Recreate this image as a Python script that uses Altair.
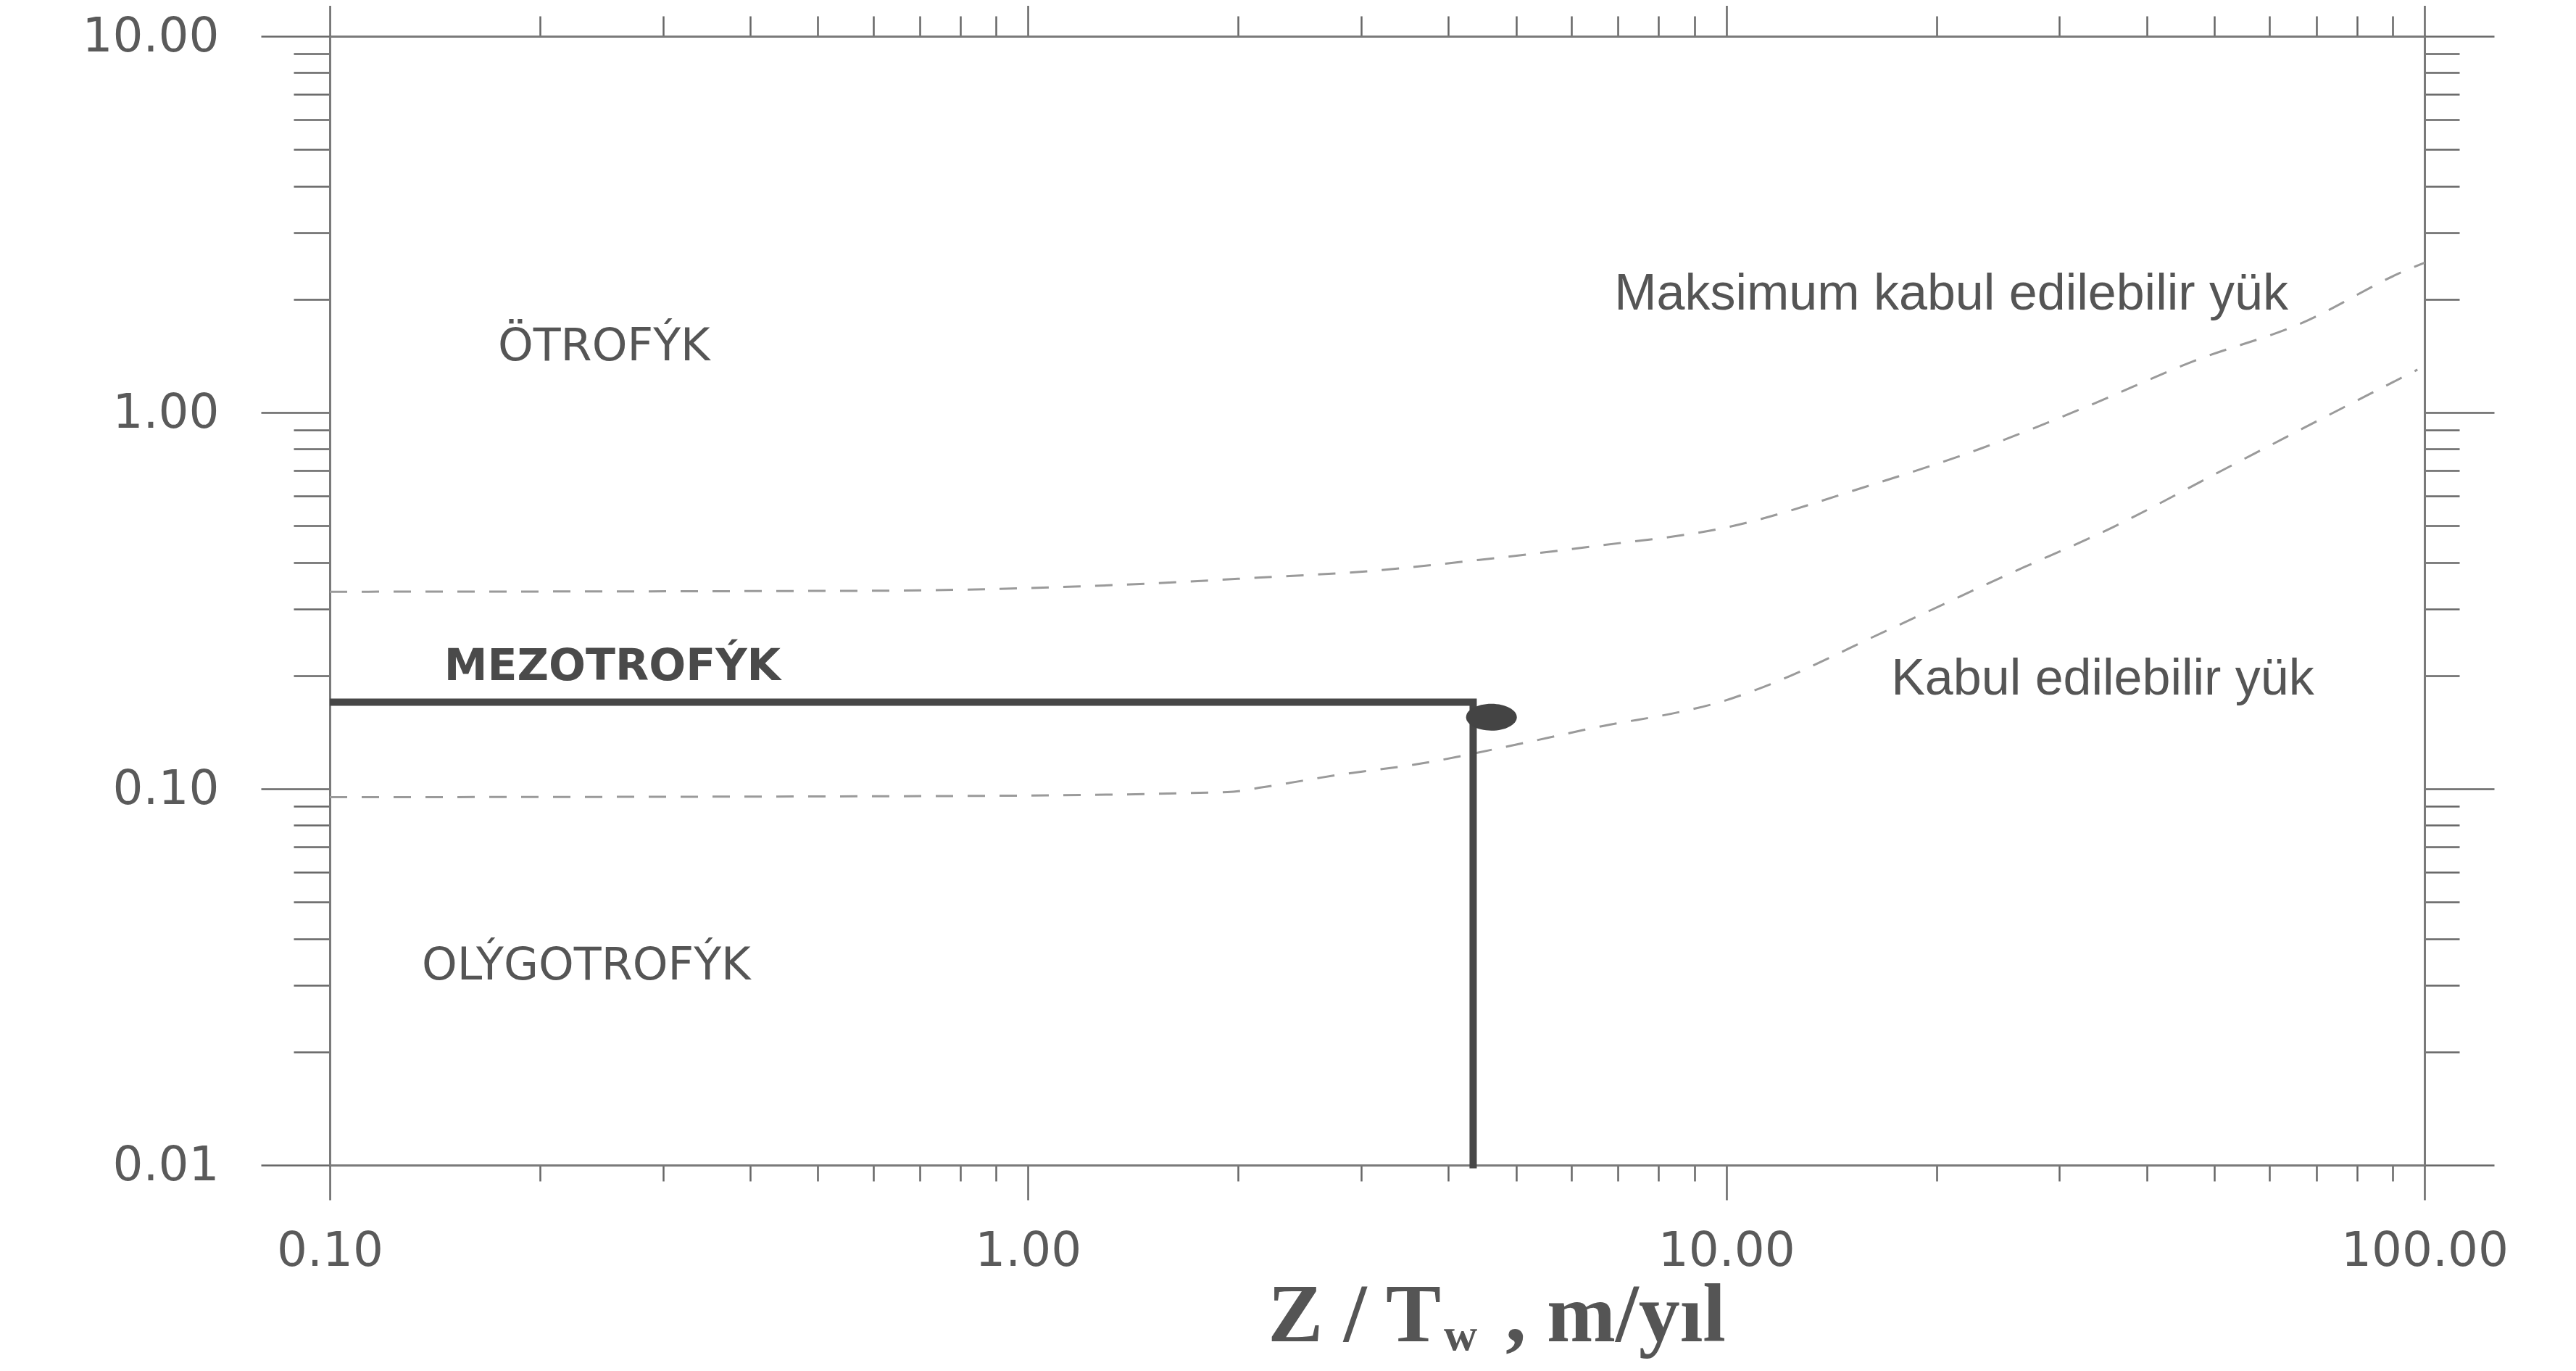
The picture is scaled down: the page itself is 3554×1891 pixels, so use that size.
import altair as alt
import pandas as pd

# ---- data (log-log Vollenweider-type diagram) ----
MAX_X = [0.1, 0.59, 1.48, 2.13, 3.08, 4.43, 6.38, 10.1, 16.0, 23.1, 32.8, 46.7, 66.3, 94.2, 100.0]
MAX_Y = [0.334, 0.336, 0.351, 0.364, 0.379, 0.406, 0.440, 0.497, 0.639, 0.801, 1.036, 1.37, 1.72, 2.39, 2.5]
ACC_X = [0.1, 0.78, 1.93, 2.17, 2.79, 3.58, 5.19, 6.67, 8.57, 9.8, 11.0, 17.1, 25.2, 35.8, 50.8, 72.4, 97.7]
ACC_Y = [0.095, 0.0957, 0.098, 0.101, 0.109, 0.116, 0.133, 0.147, 0.160, 0.170, 0.183, 0.265, 0.370, 0.496, 0.695, 0.978, 1.30]

LAKE_LINE_X = [0.1, 4.34, 4.34]
LAKE_LINE_Y = [0.17, 0.17, 0.0098]
LAKE_X = [4.61]
LAKE_Y = [0.155]

REGION_TEXT = ["ÖTROFÝK", "OLÝGOTROFÝK"]
REGION_X = [0.247, 0.233]
REGION_Y = [1.50, 0.0339]
MEZO_TEXT = ["MEZOTROFÝK"]
MEZO_X = [0.254]
MEZO_Y = [0.211]

CURVE_TEXT = ["Maksimum kabul edilebilir yük", "Kabul edilebilir yük"]
CURVE_TX = [21.0, 34.6]
CURVE_TY = [1.88, 0.178]

X_TICKS = [m * d for d in (0.1, 1, 10) for m in range(1, 10)] + [100]
Y_TICKS = [m * d for d in (0.01, 0.1, 1) for m in range(1, 10)] + [10]

W, H = 2890, 1557

curves = pd.DataFrame(
    [{"series": "max", "x": a, "y": b} for a, b in zip(MAX_X, MAX_Y)]
    + [{"series": "acc", "x": a, "y": b} for a, b in zip(ACC_X, ACC_Y)]
)
lake_line = pd.DataFrame({"x": LAKE_LINE_X, "y": LAKE_LINE_Y, "o": list(range(len(LAKE_LINE_X)))})
lake = pd.DataFrame({"x": LAKE_X, "y": LAKE_Y})
regions = pd.DataFrame({"t": REGION_TEXT, "x": REGION_X, "y": REGION_Y})
mezo = pd.DataFrame({"t": MEZO_TEXT, "x": MEZO_X, "y": MEZO_Y})
curve_lbl = pd.DataFrame({"t": CURVE_TEXT, "x": CURVE_TX, "y": CURVE_TY})

xs = alt.Scale(type="log", domain=[0.1, 100], nice=False)
ys = alt.Scale(type="log", domain=[0.01, 10], nice=False)

DECADE = "abs(log(datum.value)/LN10 - round(log(datum.value)/LN10)) < 0.001"


def make_axis(orient, values, major, minor, labels, pad=0):
    kw = dict(
        orient=orient,
        values=values,
        title="",
        grid=False,
        tickSize={"condition": {"test": DECADE, "value": major}, "value": minor},
        tickColor="#666666",
        tickWidth=2.5,
        domainColor="#7a7a7a",
        domainWidth=3,
        labels=labels,
    )
    if labels:
        kw.update(
            labelExpr=DECADE + " ? format(datum.value, '.2f') : ''",
            labelFont="DejaVu Sans",
            labelFontSize=66,
            labelColor="#5a5a5a",
            labelPadding=pad,
            labelOverlap=False,
            labelFlush=False,
            labelBound=False,
            labelLimit=600,
        )
    return alt.Axis(**kw)


ax_bottom = make_axis("bottom", X_TICKS, 48, 22, True, 38)
ax_left = make_axis("left", Y_TICKS, 95, 50, True, 58)
ax_top = make_axis("top", X_TICKS, 56, 28, False)
ax_right = make_axis("right", Y_TICKS, 96, 48, False)

curve_layer = alt.Chart(curves).mark_line(
    strokeDash=[24, 20], strokeWidth=3, color="#9a9a9a", interpolate="monotone"
).encode(
    x=alt.X("x:Q", scale=xs, axis=ax_bottom),
    y=alt.Y("y:Q", scale=ys, axis=ax_left),
    detail="series:N",
)

lake_line_layer = alt.Chart(lake_line).mark_line(
    color="#474747", strokeWidth=10, strokeCap="butt", strokeJoin="miter"
).encode(
    x=alt.X("x:Q", scale=xs, axis=ax_top),
    y=alt.Y("y:Q", scale=ys, axis=ax_right),
    order="o:O",
)

ELLIPSE = "M-1,0A1,0.53,0,1,1,1,0A1,0.53,0,1,1,-1,0Z"
dot_layer = alt.Chart(lake).mark_point(
    shape=ELLIPSE, size=4900, filled=True, color="#444444", opacity=1
).encode(
    x=alt.X("x:Q", scale=xs, axis=None),
    y=alt.Y("y:Q", scale=ys, axis=None),
)

region_layer = alt.Chart(regions).mark_text(
    font="DejaVu Sans", fontSize=62, color="#555555", align="center", baseline="middle"
).encode(
    x=alt.X("x:Q", scale=xs, axis=None),
    y=alt.Y("y:Q", scale=ys, axis=None),
    text="t:N",
)

mezo_layer = alt.Chart(mezo).mark_text(
    font="DejaVu Sans", fontSize=60, fontWeight="bold", color="#4a4a4a",
    align="center", baseline="middle"
).encode(
    x=alt.X("x:Q", scale=xs, axis=None),
    y=alt.Y("y:Q", scale=ys, axis=None),
    text="t:N",
)

curve_text_layer = alt.Chart(curve_lbl).mark_text(
    font="Liberation Sans", fontSize=70, color="#555555", align="center", baseline="alphabetic"
).encode(
    x=alt.X("x:Q", scale=xs, axis=None),
    y=alt.Y("y:Q", scale=ys, axis=None),
    text="t:N",
)

# x-axis title "Z / Tw , m/yıl" with subscript w
TITLE_PARTS = ["Z / T", "w", ", m/yıl"]
title_base = alt.Chart(pd.DataFrame({"t": [0]}))
t1 = title_base.mark_text(
    font="Liberation Serif", fontSize=114, fontWeight="bold", color="#555555",
    align="right", baseline="alphabetic", text=TITLE_PARTS[0]
).encode(x=alt.value(1533), y=alt.value(1800))
t2 = title_base.mark_text(
    font="Liberation Serif", fontSize=64, fontWeight="bold", color="#555555",
    align="left", baseline="alphabetic", text=TITLE_PARTS[1]
).encode(x=alt.value(1537), y=alt.value(1812))
t3 = title_base.mark_text(
    font="Liberation Serif", fontSize=114, fontWeight="bold", color="#555555",
    align="left", baseline="alphabetic", text=TITLE_PARTS[2]
).encode(x=alt.value(1622), y=alt.value(1800))

chart = alt.layer(
    curve_layer, lake_line_layer, dot_layer, region_layer, mezo_layer,
    curve_text_layer, t1, t2, t3
).resolve_axis(
    x="independent", y="independent"
).properties(
    width=W,
    height=H,
    autosize=alt.AutoSizeParams(type="none"),
    padding={"left": 447, "top": 42, "right": 150, "bottom": 276},
    background="white",
).configure_view(strokeWidth=0)

chart.save("out.html", embed_options={"renderer": "svg", "actions": False})
